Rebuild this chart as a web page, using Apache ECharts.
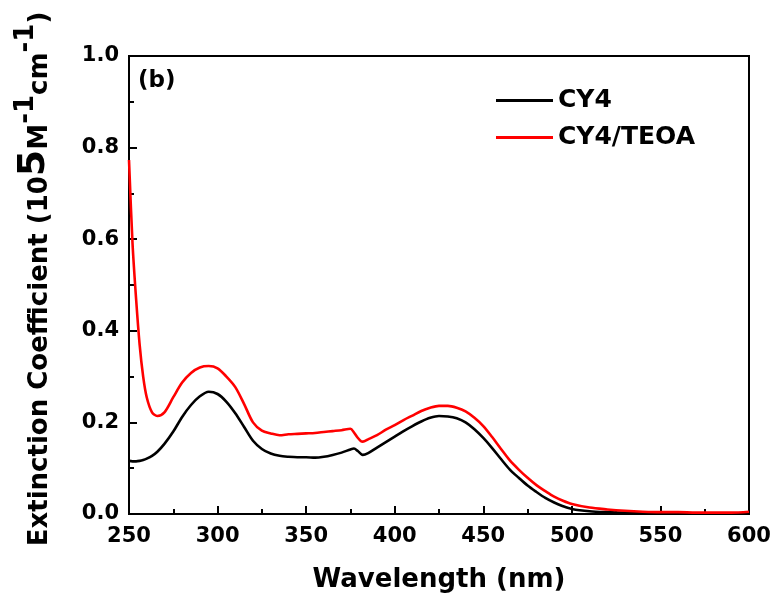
<!DOCTYPE html>
<html>
<head>
<meta charset="utf-8">
<script src="https://cdn.jsdelivr.net/npm/echarts@6/dist/echarts.min.js"></script>
<style>html,body{margin:0;padding:0;background:#fff}#c{width:778px;height:608px}</style>
</head>
<body>
<div id="c"></div>
<script>
var wavelengths = [250,252,254,256,258,260,263,266,270,275,280,285,290,295,300,305,310,315,320,325,330,335,340,345,350,355,360,365,370,375,377,379,381,382,385,390,395,400,405,410,415,420,425,430,435,440,445,450,455,460,465,470,475,480,485,490,495,500,510,520,530,540,550,560,570,580,590,600];
var cy4 = [0.116,0.115,0.115,0.116,0.118,0.121,0.127,0.136,0.153,0.180,0.212,0.238,0.257,0.267,0.262,0.245,0.220,0.190,0.160,0.142,0.132,0.127,0.125,0.124,0.124,0.123,0.125,0.129,0.134,0.141,0.143,0.138,0.131,0.129,0.133,0.145,0.157,0.169,0.181,0.192,0.202,0.210,0.214,0.213,0.209,0.200,0.185,0.166,0.144,0.120,0.097,0.079,0.062,0.048,0.035,0.025,0.017,0.011,0.006,0.004,0.003,0.002,0.002,0.002,0.001,0.001,0.001,0.002];
var cy4Teoa = [0.773,0.590,0.470,0.370,0.300,0.255,0.222,0.214,0.222,0.255,0.287,0.308,0.320,0.323,0.318,0.300,0.277,0.240,0.200,0.182,0.176,0.172,0.174,0.175,0.176,0.177,0.179,0.181,0.183,0.186,0.178,0.167,0.159,0.158,0.163,0.172,0.184,0.194,0.205,0.215,0.225,0.232,0.236,0.236,0.232,0.224,0.210,0.192,0.168,0.142,0.117,0.097,0.079,0.063,0.050,0.038,0.029,0.022,0.014,0.010,0.007,0.005,0.004,0.004,0.003,0.003,0.003,0.005];
var seriesNames = ['CY4','CY4/TEOA'];
var xTicks = [250,300,350,400,450,500,550,600];
var yTicks = [0.0,0.2,0.4,0.6,0.8,1.0];

function pairs(xs, ys){ return xs.map(function(x,i){ return [x, ys[i]]; }); }
var FONT = 'DejaVu Sans';
var chart = echarts.init(document.getElementById('c'), null, {renderer:'canvas'});
chart.setOption({
  animation:false,
  backgroundColor:'#fff',
  grid:{left:129,right:29,top:56,bottom:94,show:true,borderColor:'#000',borderWidth:2,backgroundColor:'transparent'},
  legend:{
    orient:'vertical', left:491, top:83, itemWidth:57, itemHeight:3, itemGap:12,
    icon:'rect',
    textStyle:{fontFamily:FONT,fontWeight:'bold',fontSize:25,color:'#000',lineHeight:25},
    data:seriesNames
  },
  xAxis:{
    type:'value', min:xTicks[0], max:xTicks[xTicks.length-1], interval:50,
    name:'Wavelength (nm)', nameLocation:'middle', nameGap:53,
    nameTextStyle:{fontFamily:FONT,fontWeight:'bold',fontSize:26,color:'#000'},
    axisLine:{lineStyle:{color:'#000',width:2}},
    axisTick:{inside:true,length:8,lineStyle:{color:'#000',width:2}},
    minorTick:{show:true,splitNumber:2,length:5,lineStyle:{color:'#000',width:2}},
    splitLine:{show:false},
    axisLabel:{fontFamily:FONT,fontWeight:'bold',fontSize:21,color:'#000',margin:12}
  },
  yAxis:{
    type:'value', min:yTicks[0], max:yTicks[yTicks.length-1], interval:0.2,
    name:'{a|Extinction Coefficient (10}{b|5}{a|M}{c|-1}{a|cm}{c|-1}{a|)}',
    nameLocation:'middle', nameGap:76,
    nameTextStyle:{fontFamily:FONT,fontWeight:'bold',fontSize:26,color:'#000',padding:[0,0,0,12],
      rich:{
        a:{fontFamily:FONT,fontWeight:'bold',fontSize:26,color:'#000',lineHeight:40,verticalAlign:'bottom'},
        b:{fontFamily:FONT,fontWeight:'bold',fontSize:38,color:'#000',lineHeight:40,verticalAlign:'bottom'},
        c:{fontFamily:FONT,fontWeight:'bold',fontSize:26,color:'#000',lineHeight:28,verticalAlign:'top'}
      }},
    axisLine:{lineStyle:{color:'#000',width:2}},
    axisTick:{inside:true,length:8,lineStyle:{color:'#000',width:2}},
    minorTick:{show:true,splitNumber:2,length:5,lineStyle:{color:'#000',width:2}},
    splitLine:{show:false},
    axisLabel:{fontFamily:FONT,fontWeight:'bold',fontSize:21,color:'#000',margin:10,
      formatter:function(v){return v.toFixed(1);}}
  },
  graphic:[{type:'text',left:138,top:70,style:{text:'(b)',fontFamily:FONT,fontWeight:'bold',fontSize:23,fill:'#000'}}],
  series:[
    {name:seriesNames[0],type:'line',data:pairs(wavelengths,cy4),symbol:'none',smooth:0.3,
     lineStyle:{color:'#000',width:2.6},itemStyle:{color:'#000'}},
    {name:seriesNames[1],type:'line',data:pairs(wavelengths,cy4Teoa),symbol:'none',smooth:0.3,
     lineStyle:{color:'#ff0000',width:2.6},itemStyle:{color:'#ff0000'}}
  ]
});
</script>
</body>
</html>
